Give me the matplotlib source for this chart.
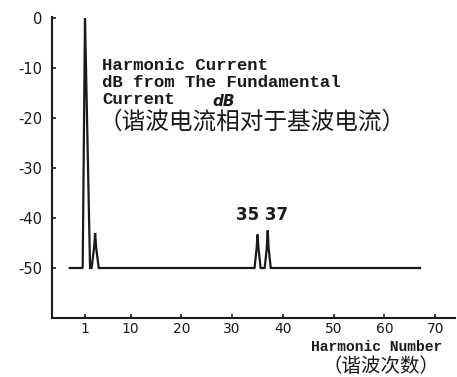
import matplotlib
matplotlib.use("Agg")
import matplotlib.pyplot as plt

# ---- data ----
harmonics = [1, 3, 35, 37]
levels_db = [0, -43, -43.3, -42.5]
floor_db = -50
trace_start = -2
trace_end = 67
x_ticks = [1, 10, 20, 30, 40, 50, 60, 70]
x_tick_labels = ["1", "10", "20", "30", "40", "50", "60", "70"]
y_ticks = [0, -10, -20, -30, -40, -50]
y_tick_labels = ["0", "-10", "-20", "-30", "-40", "-50"]
title_lines = ["Harmonic Current", "dB from The Fundamental", "Current"]

# style
half_w = [1.0, 0.7, 0.6, 0.6]
ink = "#1a1a1a"

# build trace from data
xs = [trace_start]
ys = [floor_db]
for h, lv, w in zip(harmonics, levels_db, half_w):
    if h == 1:
        xs += [h - 0.5, h - 0.45, h, h + w]
        ys += [floor_db, floor_db + 0.5, lv, floor_db]
    else:
        xs += [h - w, h - w * 0.3, h, h + w * 0.3, h + w]
        ys += [floor_db, floor_db + 4, lv, floor_db + 4, floor_db]
xs.append(trace_end)
ys.append(floor_db)

fig = plt.figure(figsize=(4.57, 3.77), dpi=100)
ax = fig.add_axes([52 / 457, 1 - 318 / 377, 403 / 457, (318 - 17) / 377])
ax.plot(xs, ys, color=ink, lw=1.6, solid_joinstyle="miter")

ax.set_xlim(-5.5, 73.9)
ax.set_ylim(-60, 0.2)
ax.set_xticks(x_ticks)
ax.set_xticklabels(x_tick_labels)
ax.set_yticks(y_ticks)
ax.set_yticklabels(y_tick_labels)
for s in ["top", "right"]:
    ax.spines[s].set_visible(False)
for s in ["left", "bottom"]:
    ax.spines[s].set_linewidth(1.5)
    ax.spines[s].set_color(ink)
ax.tick_params(axis="both", direction="in", length=3, width=1.2, colors=ink,
               labelsize=10.5, labelcolor=ink)
ax.tick_params(axis="x", pad=3, labelsize=10)
ax.tick_params(axis="y", pad=7)

mono = "Liberation Mono"
cjk = ["Noto Sans CJK SC", "DejaVu Sans"]
for i, line in enumerate(title_lines):
    ax.text(4.4, -9.4 - 3.5 * i, line, family=mono, fontsize=12.5, color=ink,
            va="center", ha="left", fontweight="bold")
ax.text(26.2, -16.6, "dB", fontsize=11, style="italic", fontweight="bold",
        color=ink, va="center", ha="left")
ax.text(3.6, -20.9, "（谐波电流相对于基波电流）", family=cjk,
        fontsize=17, color=ink, va="center", ha="left")
ax.text(35.9, -39.4, "35 37", fontsize=12, color=ink, va="center", ha="center",
        fontweight="bold")

fig.text(442 / 457, 1 - 347 / 377, "Harmonic Number", family=mono, fontsize=10.5,
         color=ink, ha="right", va="center", fontweight="bold")
fig.text(440 / 457, 1 - 366 / 377, "（谐波次数）", family=cjk,
         fontsize=14, color=ink, ha="right", va="center")

fig.savefig("out.png", dpi=100, facecolor="white")
